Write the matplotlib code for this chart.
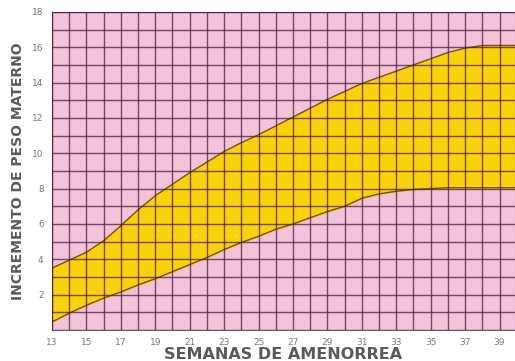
import matplotlib.pyplot as plt
from matplotlib.ticker import MultipleLocator

weeks = list(range(13, 41))
lower_kg = [0.45, 0.95, 1.4, 1.8, 2.15, 2.55, 2.9, 3.3, 3.7, 4.1, 4.55, 4.95, 5.3, 5.7,
            6.0, 6.35, 6.7, 7.0, 7.45, 7.7, 7.85, 7.95, 8.0, 8.05, 8.05, 8.05, 8.05, 8.05]
upper_kg = [3.5, 3.95, 4.4, 5.05, 5.9, 6.8, 7.6, 8.25, 8.9, 9.5, 10.1, 10.6, 11.05, 11.55,
            12.05, 12.55, 13.05, 13.5, 13.95, 14.3, 14.65, 15.0, 15.35, 15.7, 15.95, 16.1, 16.1, 16.1]
x_ticks = list(range(13, 40, 2))
y_ticks = list(range(2, 19, 2))

pink = "#f2c3d9"
yellow = "#f8d20a"
grid_color = (0.3, 0.1, 0.25)

fig = plt.figure(figsize=(5.15, 3.61), dpi=100)
ax = fig.add_axes([0.101, 0.086, 0.899, 0.881])
ax.set_facecolor(pink)

ax.fill_between(weeks, lower_kg, upper_kg, color=yellow, zorder=1)
ax.plot(weeks, upper_kg, color="#7a5018", lw=1.0, zorder=2)
ax.plot(weeks, lower_kg, color="#7a5018", lw=1.0, zorder=2)

ax.set_xlim(13, 39.9)
ax.set_ylim(0, 18)
ax.set_xticks(x_ticks)
ax.set_yticks(y_ticks)
ax.xaxis.set_minor_locator(MultipleLocator(1))
ax.yaxis.set_minor_locator(MultipleLocator(1))
ax.set_axisbelow(False)
ax.grid(which="both", color=grid_color, alpha=0.75, lw=1.0, zorder=3)
ax.tick_params(which="both", length=0, labelsize=6.5, colors="#777777", pad=6)
for spine in ax.spines.values():
    spine.set_color(grid_color)
    spine.set_alpha(0.75)

ax.set_xlabel("SEMANAS DE AMENORREA", fontsize=11.5, fontweight="bold", color="#5a5a5a", labelpad=0)
ax.set_ylabel("INCREMENTO DE PESO MATERNO", fontsize=10, fontweight="bold", color="#5a5a5a", labelpad=5)

fig.savefig("out.png", dpi=100, facecolor="white")
